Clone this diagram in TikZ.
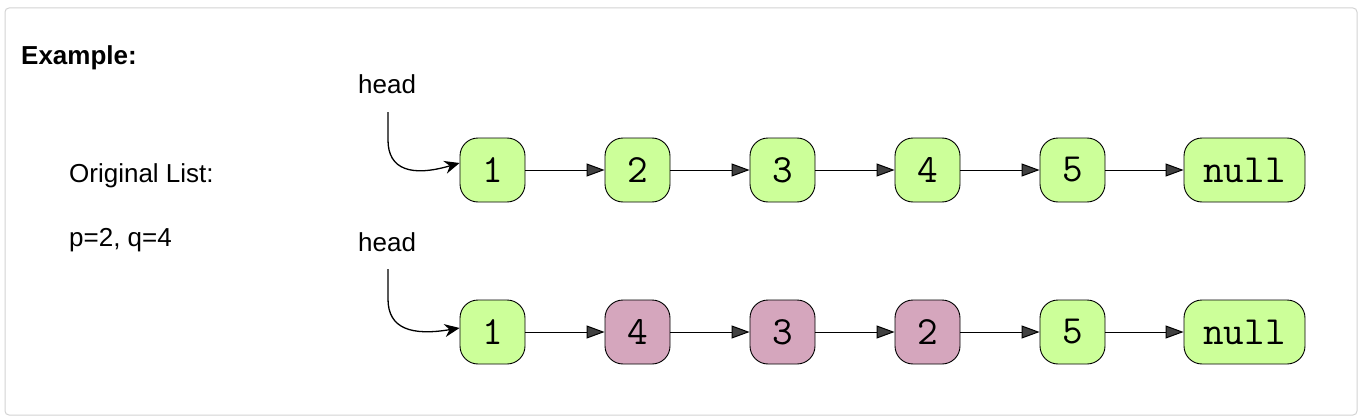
\documentclass[tikz,border=0pt]{standalone}
\usepackage{fontspec}
\setmainfont{Liberation Sans}
\usetikzlibrary{arrows.meta}
\definecolor{nodegreen}{HTML}{CCFF99}
\definecolor{nodepink}{HTML}{D5A6BD}
\definecolor{framegray}{HTML}{D3D3D3}
\definecolor{tipgray}{HTML}{404040}
\tikzset{
  listnode/.style={draw=black, line width=0.9pt, rounded corners=18pt, fill=nodegreen,
    minimum width=65pt, minimum height=64pt, inner sep=0pt,
    font=\fontsize{40}{40}\selectfont\ttfamily},
  nullnode/.style={listnode, minimum width=121pt},
  swapped/.style={fill=nodepink},
  link/.style={draw=black, line width=1pt, -{Triangle[length=18pt,width=13pt,fill=tipgray]}},
  headarrow/.style={draw=black, line width=1.3pt, -{Stealth[length=15pt,width=13pt]}},
  lbl/.style={font=\fontsize{26}{26}\selectfont, inner sep=0pt, anchor=base west},
}
\begin{document}
\begin{tikzpicture}[x=1pt,y=-1pt]
\useasboundingbox (0,0) rectangle (1363,420);
\draw[framegray, line width=1pt, rounded corners=4pt] (5,8) rectangle (1357,415);
\node[lbl, font=\fontsize{26}{26}\selectfont\bfseries] (ex) at (21,65) {Example:};
\node[lbl] (orig) at (69,182) {Original List:};
\node[lbl] (pq) at (69,246) {p=2, q=4};
% row 1
\node[lbl] (h1) at (358,93) {head};
\node[listnode] (a1) at (492.5,170) {1};
\node[listnode] (a2) at (637.5,170) {2};
\node[listnode] (a3) at (782.5,170) {3};
\node[listnode] (a4) at (927.5,170) {4};
\node[listnode] (a5) at (1072.5,170) {5};
\node[nullnode] (an) at (1244.5,170) {null};
\coordinate (s1) at (388,112);
\draw[headarrow] (s1) -- ++(0,28) .. controls (388,170) and (412,177) .. ([yshift=7pt]a1.west);
\draw[link] (a1) -- (a2);
\draw[link] (a2) -- (a3);
\draw[link] (a3) -- (a4);
\draw[link] (a4) -- (a5);
\draw[link] (a5) -- (an);
% row 2
\node[lbl] (h2) at (358,251) {head};
\node[listnode] (b1) at (492.5,332) {1};
\node[listnode, swapped] (b2) at (637.5,332) {4};
\node[listnode, swapped] (b3) at (782.5,332) {3};
\node[listnode, swapped] (b4) at (927.5,332) {2};
\node[listnode] (b5) at (1072.5,332) {5};
\node[nullnode] (bn) at (1244.5,332) {null};
\coordinate (s2) at (388,269);
\draw[headarrow] (s2) -- ++(0,30) .. controls (388,329) and (412,336) .. ([yshift=4pt]b1.west);
\draw[link] (b1) -- (b2);
\draw[link] (b2) -- (b3);
\draw[link] (b3) -- (b4);
\draw[link] (b4) -- (b5);
\draw[link] (b5) -- (bn);
\end{tikzpicture}
\end{document}
